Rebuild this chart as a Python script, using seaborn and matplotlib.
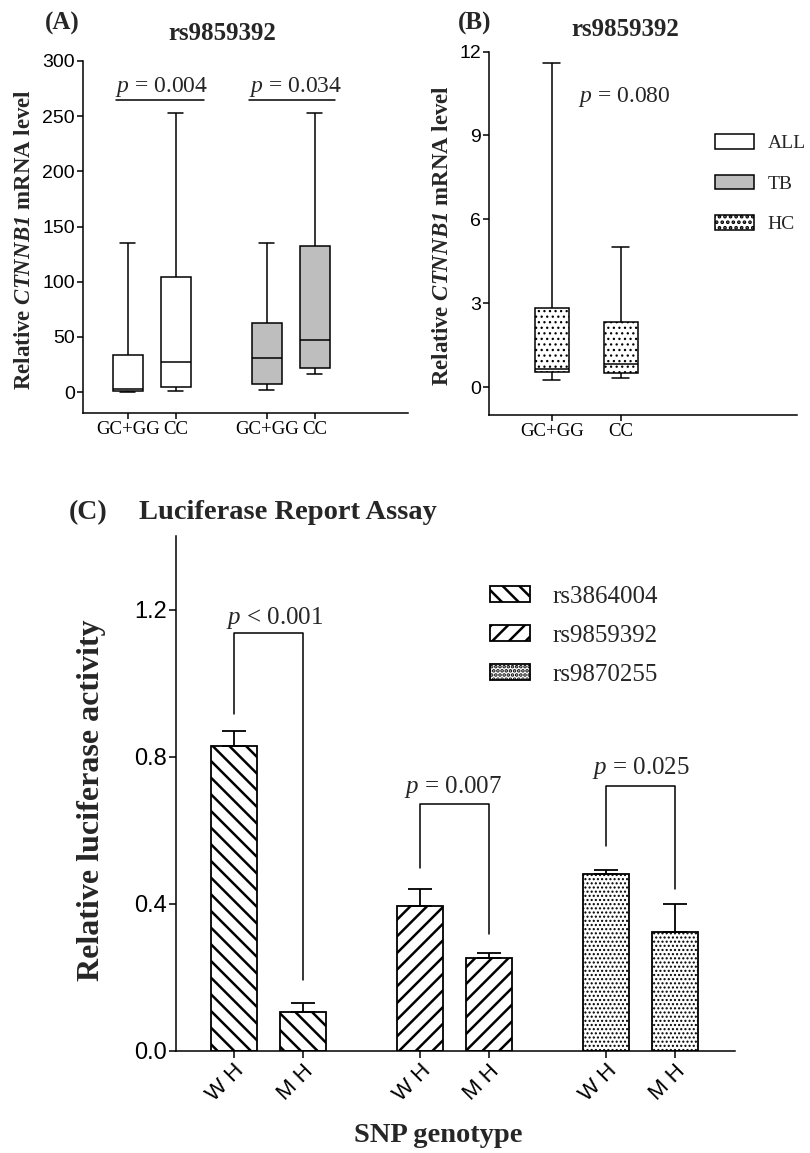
import numpy as np
import pandas as pd
import matplotlib
matplotlib.use("Agg")
import matplotlib.pyplot as plt
from matplotlib.patches import Patch
import seaborn as sns

# Panel A/B: five-number summaries (min, Q1, median, Q3, max)
all_gcgg = [0.3, 1.0, 3.0, 33.5, 135]
all_cc = [0.5, 4.2, 27.5, 104, 253]
tb_gcgg = [2, 7, 30.5, 63, 135]
tb_cc = [16, 21.5, 47, 132, 253]
hc_gcgg = [0.25, 0.54, 0.63, 2.84, 11.6]
hc_cc = [0.31, 0.51, 0.83, 2.32, 5.0]

genotypes = ["GC+GG", "CC"]
groups = ["ALL", "TB", "HC"]
p_a = ["0.004", "0.034"]
p_b = "0.080"

# Panel C: luciferase assay (mean, upper SEM)
snps = ["rs3864004", "rs9859392", "rs9870255"]
haplotypes = ["W H", "M H"]
luc_mean = [0.828, 0.106, 0.394, 0.253, 0.482, 0.322]
luc_err = [0.041, 0.023, 0.045, 0.014, 0.009, 0.078]
p_c = ["< 0.001", "= 0.007", "= 0.025"]

# Annotation heights
a_line_y = 264.7
c_top = [1.136, 0.670, 0.719]
c_left_leg = [0.915, 0.498, 0.557]
c_right_leg = [0.192, 0.317, 0.441]

SERIF = "Liberation Serif"
W, H = 810, 1153

sns.set_style("ticks")
plt.rcParams.update({
    "font.family": ["Liberation Sans", "DejaVu Sans"],
    "mathtext.fontset": "custom",
    "mathtext.rm": "Liberation Serif",
    "mathtext.it": "Liberation Serif:italic",
    "mathtext.bf": "Liberation Serif:italic:bold",
    "hatch.linewidth": 1.8,
    "axes.linewidth": 1.1,
    "axes.edgecolor": "black",
    "xtick.major.width": 1.1,
    "ytick.major.width": 1.1,
    "xtick.major.size": 4,
    "ytick.major.size": 4,
    "xtick.color": "black",
    "ytick.color": "black",
    "xtick.major.pad": 2,
    "ytick.major.pad": 1.5,
})


def px(x, y):
    return x / W, 1 - y / H


def box_frame(stats_list, positions):
    return pd.DataFrame({"pos": np.repeat(positions, 5),
                         "value": np.concatenate(stats_list)})


def thin_hatch(artist, lw):
    if hasattr(artist, "set_hatch_linewidth"):
        artist.set_hatch_linewidth(lw)


fig = plt.figure(figsize=(W / 100, H / 100), dpi=100)
axA = fig.add_axes([0.102, 0.6418, 0.402, 0.3053])
axB = fig.add_axes([0.6037, 0.6401, 0.380, 0.3151])
axC = fig.add_axes([0.2173, 0.0887, 0.690, 0.4464])

box_kw = dict(x="pos", y="value", orient="x", native_scale=True, whis=(0, 100),
              linecolor="black", linewidth=1.1, saturation=1, showfliers=False)

# ---- Panel A
pos_all = [0, 1]
pos_tb = [2.9, 3.9]
sns.boxplot(data=box_frame([all_gcgg, all_cc], pos_all), color="white",
            width=0.62, ax=axA, **box_kw)
sns.boxplot(data=box_frame([tb_gcgg, tb_cc], pos_tb), color="#bebebe",
            width=0.62, ax=axA, **box_kw)
axA.set_xlim(-0.94, 5.85)
axA.set_ylim(-19, 300)
axA.set_yticks(np.arange(0, 301, 50))
axA.set_xticks(pos_all + pos_tb)
axA.set_xticklabels(genotypes * 2, fontfamily=SERIF, fontsize=13.5)
axA.tick_params(axis="y", labelsize=14)
axA.set_xlabel("")
axA.set_ylabel(r"Relative $\mathbf{CTNNB1}$ mRNA level", fontfamily=SERIF,
               fontweight="bold", fontsize=16.5)
axA.yaxis.set_label_coords(-0.147, 0.494)
sns.despine(ax=axA)
for (x0, x1, xt), p in zip([(-0.25, 1.6, 0.70), (2.52, 4.33, 3.51)], p_a):
    axA.plot([x0, x1], [a_line_y, a_line_y], color="black", lw=1.1)
    axA.text(xt, 276, r"$p$ = " + p, ha="center", va="center",
             fontfamily=SERIF, fontsize=17)

# ---- Panel B
pos_hc = [0, 1]
sns.boxplot(data=box_frame([hc_gcgg, hc_cc], pos_hc), color="white",
            width=0.5, ax=axB, **box_kw)
for patch in axB.patches:
    patch.set_hatch("...")
    thin_hatch(patch, 0.9)
axB.set_xlim(-0.91, 3.55)
axB.set_ylim(-1, 12)
axB.set_yticks([0, 3, 6, 9, 12])
axB.set_xticks(pos_hc)
axB.set_xticklabels(genotypes, fontfamily=SERIF, fontsize=13.5)
axB.tick_params(axis="y", labelsize=14)
axB.set_xlabel("")
axB.set_ylabel(r"Relative $\mathbf{CTNNB1}$ mRNA level", fontfamily=SERIF,
               fontweight="bold", fontsize=16.5)
axB.yaxis.set_label_coords(-0.117, 0.495)
sns.despine(ax=axB)
axB.text(1.05, 10.38, r"$p$ = " + p_b, ha="center", va="center",
         fontfamily=SERIF, fontsize=17)

hc_handle = Patch(facecolor="white", edgecolor="black", lw=1.1, hatch="...")
thin_hatch(hc_handle, 0.9)
handles_b = [Patch(facecolor="white", edgecolor="black", lw=1.1),
             Patch(facecolor="#bebebe", edgecolor="black", lw=1.1),
             hc_handle]
fig.legend(handles_b, groups, loc="upper left", bbox_to_anchor=px(715, 134),
           frameon=False, prop={"family": SERIF, "size": 14},
           handlelength=2.0, handleheight=0.8, labelspacing=1.15,
           handletextpad=0.7, borderpad=0, borderaxespad=0)

# ---- Panel C
bar_pos = [g * 2.7 + h for g in range(len(snps)) for h in range(len(haplotypes))]
hatches = ["\\\\", "//", "...."]
df_c = pd.DataFrame({"pos": bar_pos, "activity": luc_mean})
sns.barplot(data=df_c, x="pos", y="activity", orient="x", native_scale=True,
            width=0.67, color="white", edgecolor="black", linewidth=1.3,
            errorbar=None, saturation=1, ax=axC)
for patch in axC.patches:
    cx = patch.get_x() + patch.get_width() / 2
    idx = int(np.argmin(np.abs(np.array(bar_pos) - cx)))
    patch.set_hatch(hatches[idx // 2])
    if idx // 2 == 2:
        thin_hatch(patch, 1.0)
axC.errorbar(bar_pos, luc_mean, yerr=[np.zeros(len(luc_err)), luc_err],
             fmt="none", ecolor="black", elinewidth=1.3, capsize=8.5, capthick=1.3)

p_xy = [(0.59, 1.178), (3.18, 0.717), (5.90, 0.770)]
for i, p in enumerate(p_c):
    l, r = bar_pos[2 * i], bar_pos[2 * i + 1]
    axC.plot([l, l, r, r], [c_left_leg[i], c_top[i], c_top[i], c_right_leg[i]],
             color="black", lw=1.1)
    axC.text(p_xy[i][0], p_xy[i][1], r"$p$ " + p, ha="center", va="center",
             fontfamily=SERIF, fontsize=18)

axC.set_xlim(-0.836, 7.27)
axC.set_ylim(0, 1.4)
axC.set_yticks([0, 0.4, 0.8, 1.2])
axC.set_yticklabels([f"{v:.1f}" for v in [0, 0.4, 0.8, 1.2]])
axC.tick_params(axis="y", labelsize=17, length=5)
axC.tick_params(axis="x", length=5)
axC.set_xticks(bar_pos)
axC.set_xticklabels(haplotypes * len(snps), rotation=45, ha="right", va="top",
                    rotation_mode="anchor", fontsize=16)
axC.set_ylabel("Relative luciferase activity", fontfamily=SERIF,
               fontweight="bold", fontsize=23)
axC.yaxis.set_label_coords(-0.125, 0.487)
axC.set_xlabel("SNP genotype", fontfamily=SERIF, fontweight="bold", fontsize=20.5)
axC.xaxis.set_label_coords(0.469, -0.140)
sns.despine(ax=axC)

handles_c = []
for i, h in enumerate(hatches):
    hp = Patch(facecolor="white", edgecolor="black", lw=1.3, hatch=h)
    if i == 2:
        thin_hatch(hp, 1.0)
    handles_c.append(hp)
fig.legend(handles_c, snps, loc="upper left", bbox_to_anchor=px(490, 586),
           frameon=False, prop={"family": SERIF, "size": 18},
           handlelength=1.6, handleheight=0.6, labelspacing=0.68,
           handletextpad=0.88, borderpad=0, borderaxespad=0)

# ---- Panel labels and titles
bold = dict(fontfamily=SERIF, fontweight="bold", ha="center", va="center")
fig.text(*px(62, 23), "(A)", fontsize=18, **bold)
fig.text(*px(222, 33), "rs9859392", fontsize=18, **bold)
fig.text(*px(475, 23), "(B)", fontsize=18, **bold)
fig.text(*px(625, 29), "rs9859392", fontsize=18, **bold)
fig.text(*px(88, 513), "(C)", fontsize=20, **bold)
fig.text(*px(139, 513), "Luciferase Report Assay", fontsize=20.5,
         fontfamily=SERIF, fontweight="bold", ha="left", va="center")

fig.savefig("out.png", dpi=100)
